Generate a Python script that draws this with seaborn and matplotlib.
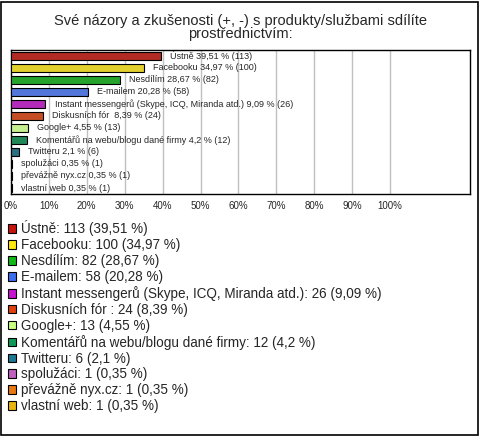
import matplotlib
matplotlib.use('Agg')

import pandas as pd
import matplotlib.pyplot as plt
import seaborn as sns
from matplotlib.patches import Rectangle

# data
names = ['Ústně', 'Facebooku', 'Nesdílím', 'E-mailem',
         'Instant messengerů (Skype, ICQ, Miranda atd.)', 'Diskusních fór ',
         'Google+', 'Komentářů na webu/blogu dané firmy', 'Twitteru',
         'spolužáci', 'převážně nyx.cz', 'vlastní web']
counts = [113, 100, 82, 58, 26, 24, 13, 12, 6, 1, 1, 1]
percents = [39.51, 34.97, 28.67, 20.28, 9.09, 8.39, 4.55, 4.2, 2.1, 0.35, 0.35, 0.35]
colors = ['#C8140C', '#FFE810', '#10B818', '#3C6CF0', '#C814D0', '#E0400C',
          '#C8FF80', '#109858', '#1C7890', '#C060C0', '#E87810', '#E8B410']
xticks = list(range(0, 101, 10))


def fmt(v):
    return str(v).replace('.', ',')


df = pd.DataFrame({'name': names, 'pct': percents})

sns.set_style('white')
plt.rcParams['font.family'] = ['Liberation Sans', 'DejaVu Sans']

fig = plt.figure(figsize=(4.8, 4.36), dpi=100)
ax = fig.add_axes([11 / 480, 1 - 194 / 436, 459 / 480, 144 / 436])

sns.barplot(data=df, x='pct', y='name', hue='name', palette=colors, dodge=False,
            legend=False, orient='h', width=0.6, edgecolor='black', linewidth=0.8,
            ax=ax, zorder=3)

for i, (n, p, c) in enumerate(zip(names, percents, counts)):
    ax.text(p + 2.4, i, '%s %s %% (%d)' % (n, fmt(p), c), fontsize=6.5,
            va='center', ha='left', zorder=4)

ax.set_xlim(0, 121.1)
ax.set_xticks(xticks)
ax.set_xticklabels(['%d%%' % t for t in xticks], fontsize=7)
ax.set_yticks([])
ax.set_xlabel('')
ax.set_ylabel('')
ax.tick_params(axis='x', length=0, pad=5)
ax.grid(axis='x', color='#C0C0C0', linewidth=1, zorder=0)
for s in ax.spines.values():
    s.set_visible(True)
    s.set_color('black')
    s.set_linewidth(1)

fig.text(0.5, 1 - 21 / 436, 'Své názory a zkušenosti (+, -) s produkty/službami sdílíte',
         ha='center', va='center', fontsize=10.5)
fig.text(0.5, 1 - 34 / 436, 'prostřednictvím:', ha='center', va='center', fontsize=10.5)

handles = [Rectangle((0, 0), 1, 1, facecolor=col, edgecolor='black', linewidth=0.8)
           for col in colors]
labels = ['%s: %d (%s %%)' % (n, c, fmt(p)) for n, c, p in zip(names, counts, percents)]
fig.legend(handles, labels, loc='upper left', bbox_to_anchor=(0.0, 0.513),
           frameon=False, fontsize=9.75, handlelength=0.6, handleheight=0.6,
           handletextpad=0.35, labelspacing=0.14, borderaxespad=0.2)

fig.patches.append(Rectangle((0.002, 0.002), 0.994, 0.994, transform=fig.transFigure,
                             fill=False, edgecolor='black', linewidth=1.2))

fig.savefig('out.png', dpi=100)
